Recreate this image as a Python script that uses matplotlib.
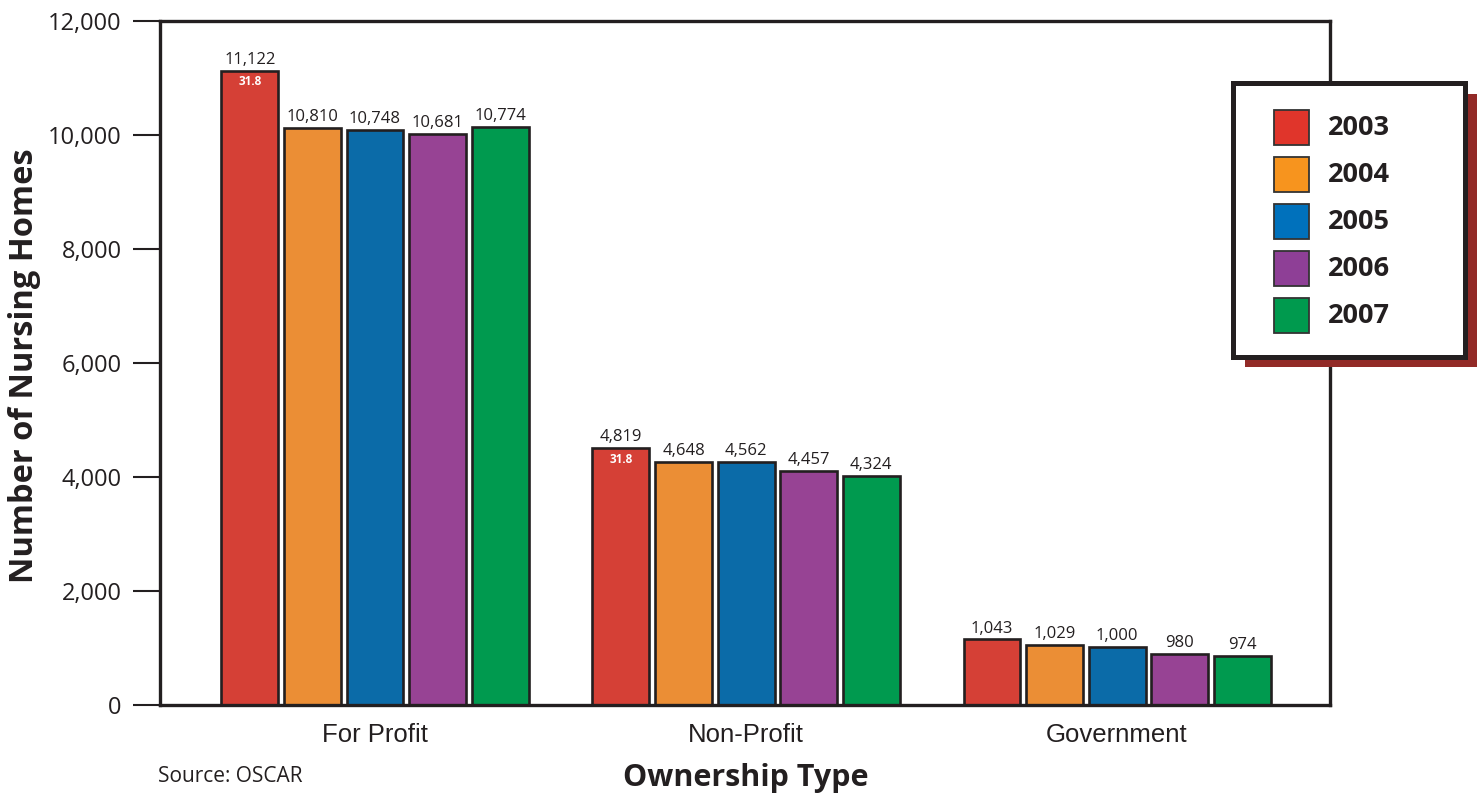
import matplotlib
matplotlib.use("Agg")
import matplotlib.pyplot as plt
from matplotlib.patches import Rectangle
import numpy as np

# ownership categories and survey years
categories = ["For Profit", "Non-Profit", "Government"]
years      = ["2003", "2004", "2005", "2006", "2007"]

# printed value labels (number of nursing homes)
labels_2003 = [11122, 4819, 1043]
labels_2004 = [10810, 4648, 1029]
labels_2005 = [10748, 4562, 1000]
labels_2006 = [10681, 4457, 980]
labels_2007 = [10774, 4324, 974]

# bar heights as drawn in the original graphic (they don't quite match the labels)
bars_2003 = [11130, 4510, 1150]
bars_2004 = [10130, 4270, 1050]
bars_2005 = [10090, 4260, 1010]
bars_2006 = [10010, 4110, 890]
bars_2007 = [10140, 4020, 860]

# small extra annotation printed inside the 2003 bars
inner_note = ["31.8", "31.8", None]

yticks = [0, 2000, 4000, 6000, 8000, 10000, 12000]

bar_colors    = ["#D54036", "#EB8E35", "#0B6BA8", "#974394", "#009A4F"]
legend_colors = ["#E0352B", "#F7941E", "#0071BC", "#8E3F96", "#009A4E"]
EDGE = "#231F20"

W, H = 1484, 797
def fx(x): return x / W
def fy(y): return 1 - y / H

plt.rcParams["font.family"] = ["Open Sans", "DejaVu Sans"]

fig = plt.figure(figsize=(W / 100, H / 100), dpi=100)
ax  = fig.add_axes([fx(160), fy(705), fx(1330) - fx(160), fy(21) - fy(705)])

heights = [bars_2003, bars_2004, bars_2005, bars_2006, bars_2007]
labels  = [labels_2003, labels_2004, labels_2005, labels_2006, labels_2007]
x     = np.arange(len(categories))
step  = 0.1685
width = 0.1536

for i, yr in enumerate(years):
    pos  = x + (i - 2) * step
    bars = ax.bar(pos, heights[i], width=width, color=bar_colors[i],
                  edgecolor=EDGE, linewidth=1.9, zorder=2)
    for b, lab in zip(bars, labels[i]):
        ax.annotate(f"{lab:,}", (b.get_x() + b.get_width() / 2, b.get_height()),
                    xytext=(0, 5), textcoords="offset points",
                    ha="center", va="baseline", fontsize=12, color="#231F20")
    if i == 0:
        for b, note in zip(bars, inner_note):
            if note:
                ax.annotate(note, (b.get_x() + b.get_width() / 2, b.get_height()),
                            xytext=(0, -8), textcoords="offset points",
                            ha="center", va="center", fontsize=8.5,
                            fontweight="bold", color="white")

ax.set_xlim(-0.5795, 2.574)
ax.set_ylim(0, 12000)
ax.set_yticks(yticks)
ax.set_yticklabels([f"{v:,}" for v in yticks], fontsize=17, color="#231F20")
ax.tick_params(axis="y", length=19.5, width=1.5, pad=8, color=EDGE)
ax.set_xticks(x)
ax.set_xticklabels(categories, fontsize=18.5, family=["Liberation Sans"], color="#231F20")
ax.tick_params(axis="x", length=0, pad=13)
for sp in ax.spines.values():
    sp.set_linewidth(2.4)
    sp.set_color(EDGE)

fig.text(fx(25), fy(366), "Number of Nursing Homes", rotation=90,
         ha="center", va="center", fontsize=23.5, fontweight="bold", color="#231F20")
fig.text(fx(746), fy(778), "Ownership Type", ha="center", va="center",
         fontsize=22, fontweight="bold", color="#231F20")
fig.text(fx(158), fy(776), "Source: OSCAR", ha="left", va="center",
         fontsize=15, color="#231F20")

# legend box with dark red drop shadow
fig.add_artist(Rectangle((fx(1245), fy(367)), fx(1477) - fx(1245), fy(94) - fy(367),
                         transform=fig.transFigure, facecolor="#922A27",
                         edgecolor="none", zorder=3))
fig.add_artist(Rectangle((fx(1232.5), fy(356.5)), fx(1464.5) - fx(1232.5),
                         fy(82.5) - fy(356.5), transform=fig.transFigure,
                         facecolor="white", edgecolor=EDGE, linewidth=3.6, zorder=4))
for i, yr in enumerate(years):
    top = 110 + i * 47
    fig.add_artist(Rectangle((fx(1274), fy(top + 35)), fx(1309) - fx(1274),
                             fy(top) - fy(top + 35), transform=fig.transFigure,
                             facecolor=legend_colors[i], edgecolor="#333333",
                             linewidth=1.3, zorder=5))
    fig.text(fx(1328), fy(top + 18), yr, ha="left", va="center",
             fontsize=19.5, fontweight="bold", color="#231F20", zorder=6)

fig.savefig("out.png", dpi=100)
